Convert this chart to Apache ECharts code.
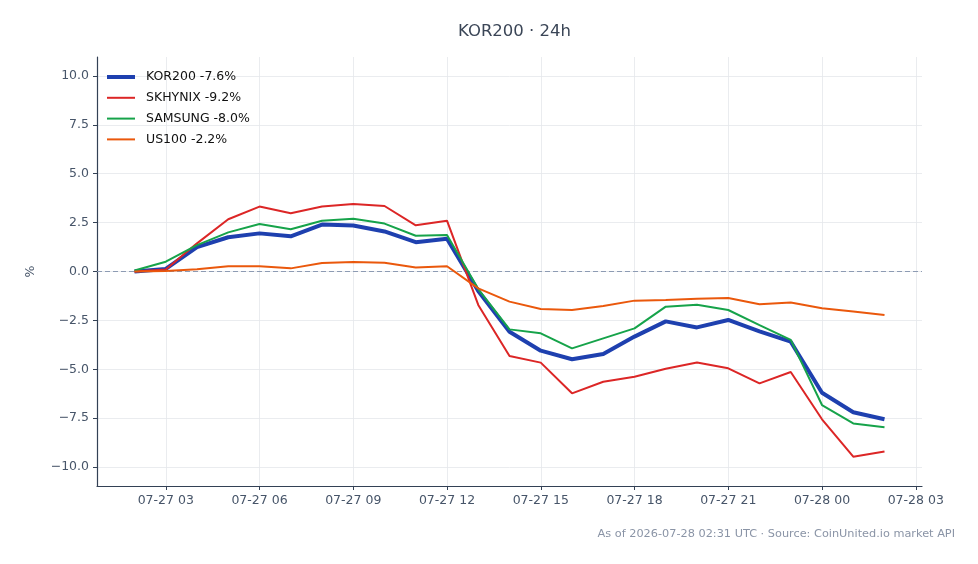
<!DOCTYPE html>
<html>
<head>
<meta charset="utf-8">
<script src="https://cdn.jsdelivr.net/npm/echarts@6/dist/echarts.min.js"></script>
<style>
html,body{margin:0;padding:0;background:#fff;}
#chart{width:978px;height:564px;}
</style>
</head>
<body>
<div id="chart"></div>
<script>
const times = [
  '2026-07-27 02:00','2026-07-27 03:00','2026-07-27 04:00','2026-07-27 05:00','2026-07-27 06:00',
  '2026-07-27 07:00','2026-07-27 08:00','2026-07-27 09:00','2026-07-27 10:00','2026-07-27 11:00',
  '2026-07-27 12:00','2026-07-27 13:00','2026-07-27 14:00','2026-07-27 15:00','2026-07-27 16:00',
  '2026-07-27 17:00','2026-07-27 18:00','2026-07-27 19:00','2026-07-27 20:00','2026-07-27 21:00',
  '2026-07-27 22:00','2026-07-27 23:00','2026-07-28 00:00','2026-07-28 01:00','2026-07-28 02:00'
];
const kor200  = [0.0,0.13,1.25,1.75,1.95,1.8,2.4,2.35,2.05,1.5,1.68,-1.0,-3.08,-4.05,-4.49,-4.22,-3.33,-2.55,-2.86,-2.48,-3.06,-3.59,-6.2,-7.2,-7.56];
const skhynix = [0.0,0.1,1.44,2.67,3.32,2.98,3.32,3.45,3.35,2.36,2.6,-1.71,-4.32,-4.66,-6.23,-5.64,-5.38,-4.97,-4.65,-4.95,-5.72,-5.14,-7.56,-9.47,-9.2];
const samsung = [0.05,0.5,1.35,2.0,2.43,2.16,2.6,2.7,2.45,1.83,1.87,-0.9,-2.96,-3.16,-3.93,-3.42,-2.91,-1.8,-1.7,-1.97,-2.74,-3.5,-6.83,-7.77,-7.97];
const us100   = [0.0,0.03,0.11,0.27,0.27,0.16,0.43,0.49,0.45,0.2,0.27,-0.86,-1.54,-1.92,-1.97,-1.76,-1.49,-1.46,-1.39,-1.36,-1.68,-1.58,-1.88,-2.05,-2.22];
const seriesNames = ['KOR200','SKHYNIX','SAMSUNG','US100'];
const seriesChanges = ['-7.6%','-9.2%','-8.0%','-2.2%'];
const xTickTimes = ['2026-07-27 03:00','2026-07-27 06:00','2026-07-27 09:00','2026-07-27 12:00','2026-07-27 15:00','2026-07-27 18:00','2026-07-27 21:00','2026-07-28 00:00','2026-07-28 03:00'];
const xTickLabels = ['07-27 03','07-27 06','07-27 09','07-27 12','07-27 15','07-27 18','07-27 21','07-28 00','07-28 03'];
const yTicks = [-10,-7.5,-5,-2.5,0,2.5,5,7.5,10];
const titleText = 'KOR200 · 24h';
const footerText = 'As of 2026-07-28 02:31 UTC · Source: CoinUnited.io market API';

const toMs = s => Date.parse(s.replace(' ', 'T') + ':00Z');
const xs = times.map(toMs);
const HOUR = 3600000;
const xMin = xs[0] - 1.2 * HOUR;
const xMax = xs[xs.length - 1] + 1.2 * HOUR;
const tickMs = xTickTimes.map(toMs);
const labelMap = {};
tickMs.forEach((t, i) => labelMap[t] = xTickLabels[i]);

const colors = ['#1e40af', '#dc2626', '#16a34a', '#ea580c'];
const widths = [4, 2, 2, 2];
const allData = [kor200, skhynix, samsung, us100];
const FONT = 'DejaVu Sans';

// legend icon: a horizontal bar of given thickness centred in a 28x14 box
const barIcon = t => {
  const y0 = 7 - t / 2, y1 = 7 + t / 2;
  return 'path://M0,0M0,' + y0 + 'L28,' + y0 + 'L28,' + y1 + 'L0,' + y1 + 'ZM28,14';
};

const series = allData.map((arr, k) => ({
  name: seriesNames[k] + ' ' + seriesChanges[k],
  type: 'line',
  data: arr.map((v, i) => [xs[i], v]),
  symbol: 'none',
  lineStyle: { color: colors[k], width: widths[k] },
  itemStyle: { color: colors[k] },
  z: 3,
  animation: false
}));
series[0].markLine = {
  silent: true,
  symbol: 'none',
  label: { show: false },
  lineStyle: { color: '#8d9bb3', width: 1, type: [5, 3] },
  data: [{ yAxis: 0 }],
  z: 1
};

const chart = echarts.init(document.getElementById('chart'), null, { renderer: 'canvas' });
chart.setOption({
  animation: false,
  backgroundColor: '#ffffff',
  textStyle: { fontFamily: FONT },
  title: {
    text: titleText,
    left: 509.5,
    textAlign: 'center',
    top: 18,
    textStyle: { fontFamily: FONT, fontSize: 16.5, fontWeight: 'normal', color: '#3b4657' }
  },
  graphic: [{
    type: 'text',
    right: 23,
    top: 529,
    style: { text: footerText, fontFamily: FONT, fontSize: 11.3, fill: '#8a94a6' }
  }],
  legend: {
    orient: 'vertical',
    left: 102,
    top: 65,
    itemWidth: 28,
    itemHeight: 14,
    itemGap: 6.8,
    textStyle: { fontFamily: FONT, fontSize: 12.5, color: '#111111', padding: [0, 0, 0, 6] },
    data: series.map((s, k) => ({ name: s.name, icon: barIcon(widths[k]) }))
  },
  grid: { left: 97, right: 56, top: 57, bottom: 78, containLabel: false },
  xAxis: {
    type: 'value',
    min: xMin,
    max: xMax,
    axisLine: { show: true, onZero: false, lineStyle: { color: '#334155', width: 1.2 } },
    axisTick: { show: true, length: 4, lineStyle: { color: '#334155' }, customValues: tickMs },
    axisLabel: {
      customValues: tickMs,
      fontFamily: FONT, fontSize: 12.5, color: '#475569', margin: 8,
      formatter: v => labelMap[v] || ''
    },
    splitLine: { show: true, lineStyle: { color: '#e5e7eb', width: 0.8 } }
  },
  yAxis: {
    type: 'value',
    min: -10.97,
    max: 10.97,
    name: '%',
    nameLocation: 'middle',
    nameRotate: 90,
    nameGap: 60,
    nameTextStyle: { fontFamily: FONT, fontSize: 12.5, color: '#475569' },
    axisLine: { show: true, onZero: false, lineStyle: { color: '#334155', width: 1.2 } },
    axisTick: { show: true, length: 4, lineStyle: { color: '#334155' }, customValues: yTicks },
    axisLabel: {
      customValues: yTicks,
      fontFamily: FONT, fontSize: 12.5, color: '#475569', margin: 8,
      formatter: v => (v < 0 ? '\u2212' + Math.abs(v).toFixed(1) : v.toFixed(1))
    },
    splitLine: { show: true, lineStyle: { color: '#e5e7eb', width: 0.8 } }
  },
  series: series
});
</script>
</body>
</html>
